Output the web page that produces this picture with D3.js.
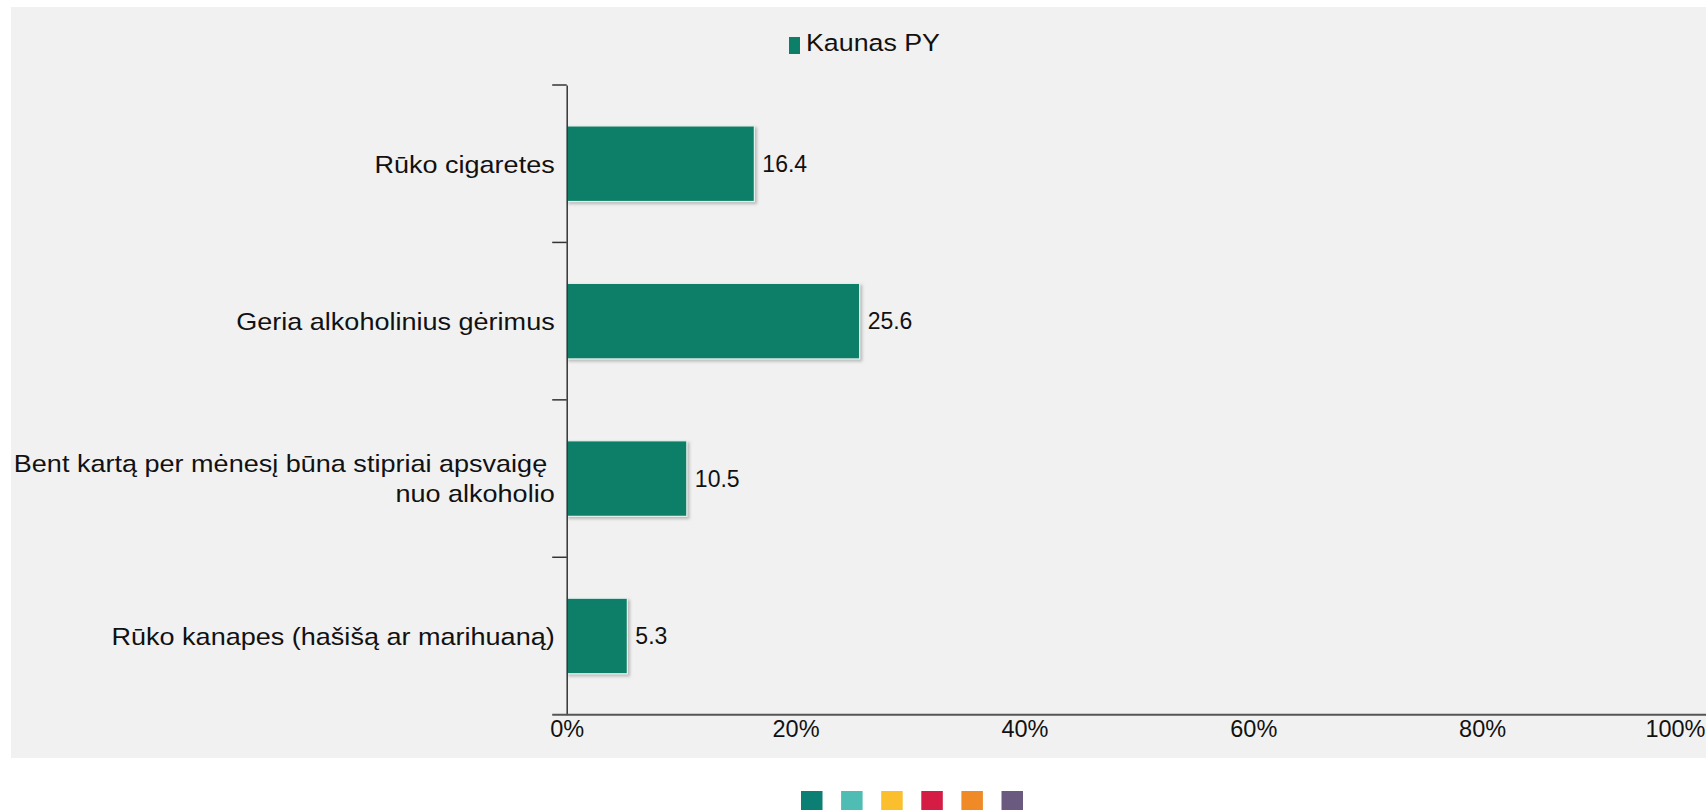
<!DOCTYPE html>
<html>
<head>
<meta charset="utf-8">
<script src="https://cdn.jsdelivr.net/npm/d3@7"></script>
<style>
  html, body { margin: 0; padding: 0; background: #ffffff; }
  svg { display: block; }
  text { font-family: "Liberation Sans", Arial, Helvetica, sans-serif; fill: #111; }
</style>
</head>
<body>
<svg id="chart" width="1706" height="810"></svg>
<script>
// ---- data ----
const categories = [
  "Rūko cigaretes",
  "Geria alkoholinius gėrimus",
  "Bent kartą per mėnesį būna stipriai apsvaigę \nnuo alkoholio",
  "Rūko kanapes (hašišą ar marihuaną)"
];
const seriesName = "Kaunas PY";
const values = [16.4, 25.6, 10.5, 5.3];
const xTicks = [0, 20, 40, 60, 80, 100];
const paletteSwatches = ["#0c7f75", "#4fbdb3", "#fbbf2e", "#d41c45", "#ef8a26", "#6b5a80"];

// ---- layout ----
const W = 1706, H = 810;
const panel = { x: 11, y: 7, w: W - 11, h: 751 };
const plot = { left: 566.7, right: 1711, top: 85, bottom: 714.7 };
const barColor = "#0b7f67";
const stretch = 1.09; // horizontal stretch of the category labels

const svg = d3.select("#chart");

const defs = svg.append("defs");
const f = defs.append("filter").attr("id", "shadow")
  .attr("x", "-10%").attr("y", "-20%").attr("width", "130%").attr("height", "150%");
f.append("feDropShadow").attr("dx", 2).attr("dy", 2).attr("stdDeviation", 1.5)
  .attr("flood-color", "#888").attr("flood-opacity", 0.55);

// background panel
svg.append("rect")
  .attr("x", panel.x).attr("y", panel.y)
  .attr("width", panel.w).attr("height", panel.h)
  .attr("fill", "#f1f1f1");

// scales
const x = d3.scaleLinear().domain([0, 100]).range([plot.left, plot.right]);
const y = d3.scaleBand().domain(categories).range([plot.top, plot.bottom])
  .paddingInner(0.52).paddingOuter(0.26);

// bars
svg.append("g").selectAll("rect")
  .data(categories)
  .join("rect")
  .attr("x", x(0))
  .attr("y", d => y(d))
  .attr("width", (d, i) => x(values[i]) - x(0))
  .attr("height", y.bandwidth())
  .attr("fill", barColor)
  .attr("stroke", "#e6f2ee")
  .attr("stroke-width", 1.2)
  .attr("filter", "url(#shadow)");

// value labels
svg.append("g").selectAll("text")
  .data(categories)
  .join("text")
  .attr("x", (d, i) => x(values[i]) + 8)
  .attr("y", d => y(d) + y.bandwidth() / 2)
  .attr("dy", "0.36em")
  .attr("font-size", 23)
  .text((d, i) => values[i].toFixed(1));

// y axis line
const yAxis = d3.axisLeft(y).tickSize(0).tickFormat("");
const gy = svg.append("g").attr("transform", `translate(${plot.left},0)`).call(yAxis);
gy.select(".domain").attr("stroke", "#333").attr("stroke-width", 1.5);

// category boundary ticks
const step = y.step();
const boundaries = d3.range(categories.length).map(i => plot.top + i * step);
svg.append("g").selectAll("line")
  .data(boundaries)
  .join("line")
  .attr("x1", plot.left - 14.5).attr("x2", plot.left)
  .attr("y1", d => d).attr("y2", d => d)
  .attr("stroke", "#333").attr("stroke-width", 1.5);

// category labels (multi-line, right aligned)
const labelG = svg.append("g");
categories.forEach(cat => {
  const lines = cat.split("\n");
  const lh = 30;
  const cy = y(cat) + y.bandwidth() / 2;
  const y0 = cy - (lines.length - 1) * lh / 2;
  const labelRight = plot.left - 12;
  const t = labelG.append("text")
    .attr("transform", `translate(${labelRight},${y0}) scale(${stretch},1)`)
    .attr("text-anchor", "end")
    .attr("font-size", 24.8);
  lines.forEach((ln, i) => {
    t.append("tspan").attr("x", 0).attr("y", i * lh).attr("dy", "0.36em").text(ln);
  });
});

// x axis
const xAxis = d3.axisBottom(x).tickValues(xTicks).tickSize(0).tickPadding(6)
  .tickFormat(d => d + "%");
const gx = svg.append("g").attr("transform", `translate(0,${plot.bottom})`).call(xAxis);
gx.select(".domain").remove();
gx.selectAll("text").attr("font-size", 23.5).attr("font-family", "Liberation Sans, Arial, sans-serif").attr("fill", "#111");
// keep the last tick label inside the picture, right-aligned to the edge
gx.selectAll(".tick").filter(d => x(d) > W - 30).select("text")
  .attr("text-anchor", "end")
  .attr("x", d => W - 1 - x(d));
svg.append("line")
  .attr("x1", plot.left - 14.5).attr("x2", W)
  .attr("y1", plot.bottom).attr("y2", plot.bottom)
  .attr("stroke", "#555").attr("stroke-width", 2);

// legend
const lg = svg.append("g");
lg.append("rect").attr("x", 789).attr("y", 37).attr("width", 11).attr("height", 17)
  .attr("fill", barColor);
lg.append("text")
  .attr("transform", `translate(806,50.7) scale(1.14,1)`)
  .attr("font-size", 23.5)
  .text(seriesName);

// palette swatches below the panel
svg.append("g").selectAll("rect")
  .data(paletteSwatches)
  .join("rect")
  .attr("x", (d, i) => 801 + i * 40.1)
  .attr("y", 791)
  .attr("width", 21.5)
  .attr("height", 22)
  .attr("fill", d => d);
</script>
</body>
</html>
